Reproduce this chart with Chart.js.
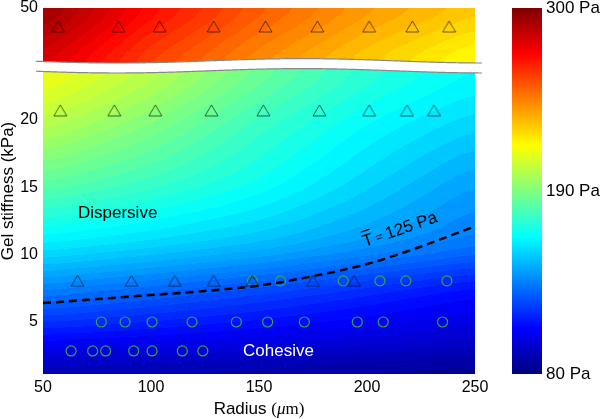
<!DOCTYPE html>
<html>
<head>
<meta charset="utf-8">
<script src="https://cdn.jsdelivr.net/npm/chart.js@4.4.0/dist/chart.umd.min.js"></script>
<style>
  html, body { margin: 0; padding: 0; background: #fff; }
  #wrap { width: 600px; height: 419px; }
</style>
</head>
<body>
<div id="wrap"><canvas id="chart" width="600" height="419"></canvas></div>
<script>
// ---- values ----
const radiusTicks = [50, 100, 150, 200, 250];
const stiffTicks = [5, 10, 15, 20];
const barTicks = [80, 190, 300];

// markers: radius (um) per row, stiffness (kPa) of the row
const topTriR = [57, 85, 104, 129, 153, 177, 201, 221, 238];
const topTriE = 43;
const triR20 = [58, 83, 102, 128, 152, 178, 201, 218.5, 231];
const triE20 = 20.7;
const triR8 = [66, 91, 111, 129, 147, 175, 194];
const circR8 = [147, 160, 189, 206, 218, 237];
const rowE8 = 8.05;
const circR5 = [77, 88, 100.5, 119, 139.5, 154, 171, 195.5, 207.5, 235];
const rowE5 = 5;
const circR3 = [63, 73, 79, 92, 100.5, 114.5, 124];
const rowE3 = 2.85;

// dashed T = 125 Pa line
const contourR = [50, 75, 100, 125, 150, 175, 200, 225, 250];
const contourE = [6.4, 6.7, 7.0, 7.3, 7.7, 8.4, 9.3, 10.6, 12.1];

// background tension (Pa), estimated from the colours
const fieldR = [50, 100, 150, 200, 250];
const lowE = [1, 3, 5, 8, 10, 15, 20, 24];
const lowT = [
  [85, 84, 83, 81, 80],
  [104, 102, 100, 97, 94],
  [118, 114, 110, 106, 102],
  [140, 133, 126, 118, 110],
  [155, 151, 146, 139, 132],
  [182, 174, 165, 153, 141],
  [204, 191, 175, 163, 154],
  [218, 205, 188, 173, 164]
];
const highE = [30, 50];
const highT = [
  [280, 258, 242, 228, 216],
  [296, 272, 254, 240, 230]
];

// broken axis: lower part is plotted as is, upper part (30..50) squeezed on top
const yMin = 1.14, lowTop = 23.64, highBottom = 24.38, yMax = 28.3;
function highToAxis(e) {
  return highBottom + (e - highE[0]) / (highE[1] - highE[0]) * (yMax - highBottom);
}
function axisToHigh(v) {
  return highE[0] + (v - highBottom) / (yMax - highBottom) * (highE[1] - highE[0]);
}

function jet(f) {
  const cl = v => Math.max(0, Math.min(1, v));
  return [cl(1.5 - Math.abs(4 * f - 3)), cl(1.5 - Math.abs(4 * f - 2)), cl(1.5 - Math.abs(4 * f - 1))];
}
function jetCss(f) {
  const c = jet(f);
  return 'rgb(' + Math.round(c[0] * 255) + ',' + Math.round(c[1] * 255) + ',' + Math.round(c[2] * 255) + ')';
}

function locate(arr, v) {
  let i = 0;
  while (i < arr.length - 2 && v > arr[i + 1]) i++;
  let f = (v - arr[i]) / (arr[i + 1] - arr[i]);
  return [i, Math.max(0, Math.min(1, f))];
}
function fieldAt(es, grid, r, e) {
  const [i, fx] = locate(fieldR, r);
  const [j, fy] = locate(es, e);
  const a = grid[j][i] * (1 - fx) + grid[j][i + 1] * fx;
  const b = grid[j + 1][i] * (1 - fx) + grid[j + 1][i + 1] * fx;
  return a * (1 - fy) + b * fy;
}

// box blur of a block of rows, to take the corners off the bilinear grid
function smooth(buf, w, j0, j1, rad) {
  const tmp = new Float32Array(w * (j1 - j0));
  for (let pass = 0; pass < 2; pass++) {
    for (let j = j0; j < j1; j++) {
      for (let i = 0; i < w; i++) {
        let s = 0, n = 0;
        for (let d = -rad; d <= rad; d++) {
          const ii = Math.max(0, Math.min(w - 1, i + d));
          s += buf[j * w + ii]; n++;
        }
        tmp[(j - j0) * w + i] = s / n;
      }
    }
    for (let j = j0; j < j1; j++) {
      for (let i = 0; i < w; i++) {
        let s = 0, n = 0;
        for (let d = -rad; d <= rad; d++) {
          const jj = Math.max(j0, Math.min(j1 - 1, j + d));
          s += tmp[(jj - j0) * w + i]; n++;
        }
        buf[j * w + i] = s / n;
      }
    }
  }
}

function triangleImage(color) {
  const c = document.createElement('canvas');
  c.width = 15; c.height = 13;
  const g = c.getContext('2d');
  g.strokeStyle = color;
  g.lineWidth = 1;
  g.beginPath();
  g.moveTo(7.5, 1); g.lineTo(14, 12); g.lineTo(1, 12); g.closePath();
  g.stroke();
  return c;
}
const tri = triangleImage('rgba(0,0,0,0.6)');

function pts(rs, e) { return rs.map(r => ({x: r, y: e})); }

function wave(px) { return 2.2 * Math.cos(2 * Math.PI * (px - 117) / 370); }

const fieldPlugin = {
  id: 'field',
  beforeDatasetsDraw(chart) {
    const {ctx, chartArea: a, scales} = chart;
    const x = scales.x, y = scales.y, cb = scales.cb;
    const w = Math.round(a.right - a.left), h = Math.round(a.bottom - a.top);
    const off = document.createElement('canvas');
    off.width = w; off.height = h;
    const octx = off.getContext('2d');
    const img = octx.createImageData(w, h);
    const split = (lowTop + highBottom) / 2;
    const buf = new Float32Array(w * h);
    let jSplit = 0;
    for (let j = 0; j < h; j++) {
      const v = y.getValueForPixel(a.top + j + 0.5);
      if (v >= split) jSplit = j + 1;
      for (let i = 0; i < w; i++) {
        const r = x.getValueForPixel(a.left + i + 0.5);
        if (v < split) buf[j * w + i] = fieldAt(lowE, lowT, r, Math.min(v, lowTop));
        else buf[j * w + i] = fieldAt(highE, highT, r, axisToHigh(Math.max(v, highBottom)));
      }
    }
    smooth(buf, w, 0, jSplit, 12);
    smooth(buf, w, jSplit, h, 18);
    for (let k = 0; k < w * h; k++) {
      let f = (buf[k] - 80) / 220;
      f = Math.floor(f * 64) / 64 + 1 / 128; // contour bands
      const c = jet(f);
      img.data[k * 4] = c[0] * 255;
      img.data[k * 4 + 1] = c[1] * 255;
      img.data[k * 4 + 2] = c[2] * 255;
      img.data[k * 4 + 3] = 255;
    }
    octx.putImageData(img, 0, 0);
    ctx.drawImage(off, a.left, a.top, w, h);

    // axis break
    const yUp = y.getPixelForValue(highBottom), yLo = y.getPixelForValue(lowTop);
    const x0 = a.left - 7, x1 = a.right + 7;
    ctx.save();
    ctx.beginPath();
    for (let px = x0; px <= x1; px++) ctx.lineTo(px, yUp + wave(px));
    for (let px = x1; px >= x0; px--) ctx.lineTo(px, yLo + wave(px));
    ctx.closePath();
    ctx.fillStyle = '#fff';
    ctx.fill();
    ctx.strokeStyle = '#888';
    ctx.lineWidth = 1.2;
    [yUp, yLo].forEach(base => {
      ctx.beginPath();
      for (let px = x0; px <= x1; px++) ctx.lineTo(px, base + wave(px));
      ctx.stroke();
    });

    // colour bar
    const bx = cb.left + 37;
    for (let py = Math.floor(cb.top); py < cb.bottom; py++) {
      const v = cb.getValueForPixel(py + 0.5);
      ctx.fillStyle = jetCss((v - 80) / 220);
      ctx.fillRect(bx, py, 30, 1);
    }
    ctx.restore();
  },
  afterDatasetsDraw(chart) {
    const {ctx, chartArea: a, scales: {x, y}} = chart;
    ctx.save();
    ctx.font = '17px "Liberation Sans", Arial, sans-serif';
    ctx.textBaseline = 'middle';
    ctx.fillStyle = '#000';
    ctx.textAlign = 'left';
    ctx.fillText('Dispersive', x.getPixelForValue(66.2), y.getPixelForValue(13.1));
    ctx.fillStyle = '#fff';
    ctx.textAlign = 'center';
    ctx.fillText('Cohesive', x.getPixelForValue(159), y.getPixelForValue(2.85));

    // T-bar label along the dashed line
    ctx.translate(x.getPixelForValue(216), y.getPixelForValue(11.5));
    ctx.rotate(-19 * Math.PI / 180);
    ctx.fillStyle = '#000';
    ctx.textBaseline = 'alphabetic';
    ctx.textAlign = 'left';
    const big = '17px "Liberation Sans", Arial, sans-serif';
    const small = '12px "Liberation Sans", Arial, sans-serif';
    ctx.font = big; const wT = ctx.measureText('T').width;
    ctx.font = small; const wEq = ctx.measureText(' = ').width;
    ctx.font = big; const wV = ctx.measureText('125 Pa').width;
    let cx = -(wT + wEq + wV) / 2;
    ctx.fillText('T', cx, 0);
    ctx.fillRect(cx + 1, -16, wT - 1, 1.2);
    cx += wT;
    ctx.font = small; ctx.fillText(' = ', cx, -1); cx += wEq;
    ctx.font = big; ctx.fillText('125 Pa', cx, 0);
    ctx.restore();

    // x title with the math part in serif
    ctx.save();
    ctx.fillStyle = '#000';
    ctx.textBaseline = 'alphabetic';
    ctx.textAlign = 'left';
    const parts = [
      ['Radius ', '17px "Liberation Sans", Arial, sans-serif'],
      ['(', '17px "Liberation Serif", serif'],
      ['\u03bc', 'italic 17px "Liberation Serif", serif'],
      ['m)', '17px "Liberation Serif", serif']
    ];
    let tw = 0;
    parts.forEach(p => { ctx.font = p[1]; tw += ctx.measureText(p[0]).width; });
    let tx = (a.left + a.right) / 2 - tw / 2;
    parts.forEach(p => { ctx.font = p[1]; ctx.fillText(p[0], tx, 414); tx += ctx.measureText(p[0]).width; });
    ctx.restore();
  }
};

const tickFont = {family: '"Liberation Sans", Arial, sans-serif', size: 16};
const ring = {pointStyle: 'circle', pointRadius: 5, borderColor: '#2ea84a', borderWidth: 1.2, backgroundColor: 'rgba(0,0,0,0)'};

new Chart(document.getElementById('chart'), {
  type: 'scatter',
  data: {
    datasets: [
      {
        type: 'line',
        data: contourR.map((r, i) => ({x: r, y: contourE[i]})),
        borderColor: '#000', borderWidth: 2.5, borderDash: [8, 5],
        pointRadius: 0, fill: false, cubicInterpolationMode: 'monotone'
      },
      {data: pts(topTriR, highToAxis(topTriE)), pointStyle: tri},
      {data: pts(triR20, triE20), pointStyle: tri},
      {data: pts(triR8, rowE8), pointStyle: tri},
      Object.assign({data: pts(circR8, rowE8)}, ring),
      Object.assign({data: pts(circR5, rowE5)}, ring),
      Object.assign({data: pts(circR3, rowE3)}, ring)
    ]
  },
  options: {
    responsive: false,
    animation: false,
    events: [],
    layout: {padding: {top: 8, left: 0, right: 0, bottom: 0}},
    plugins: {legend: {display: false}, tooltip: {enabled: false}},
    scales: {
      x: {
        type: 'linear', min: 50, max: 250,
        grid: {display: false, drawTicks: false}, border: {display: false},
        afterBuildTicks: s => { s.ticks = radiusTicks.map(v => ({value: v})); },
        afterFit: s => { s.height = 45; s.paddingLeft = 0; s.paddingRight = 0; },
        ticks: {padding: 4, color: '#000', font: tickFont, maxRotation: 0, autoSkip: false}
      },
      y: {
        type: 'linear', min: yMin, max: yMax,
        grid: {display: false, drawTicks: false}, border: {display: false},
        afterBuildTicks: s => { s.ticks = stiffTicks.map(v => ({value: v})).concat([{value: yMax}]); },
        afterFit: s => { s.width = 43; s.paddingTop = 0; s.paddingBottom = 0; },
        ticks: {
          padding: 5, color: '#000', font: tickFont, autoSkip: false,
          callback: v => (v === yMax ? String(highE[1]) : String(v))
        },
        title: {
          display: true, text: 'Gel stiffness (kPa)', color: '#000',
          font: {family: '"Liberation Sans", Arial, sans-serif', size: 17, lineHeight: 1},
          padding: {top: 0, bottom: 0}
        }
      },
      cb: {
        type: 'linear', position: 'right', min: 80, max: 300,
        grid: {display: false, drawTicks: false}, border: {display: false},
        afterBuildTicks: s => { s.ticks = barTicks.map(v => ({value: v})); },
        afterFit: s => { s.width = 125; s.paddingTop = 0; s.paddingBottom = 0; },
        ticks: {padding: 71, color: '#000', font: {family: '"Liberation Sans", Arial, sans-serif', size: 17}, autoSkip: false,
          callback: v => v + ' Pa'}
      }
    }
  },
  plugins: [fieldPlugin]
});
</script>
</body>
</html>
